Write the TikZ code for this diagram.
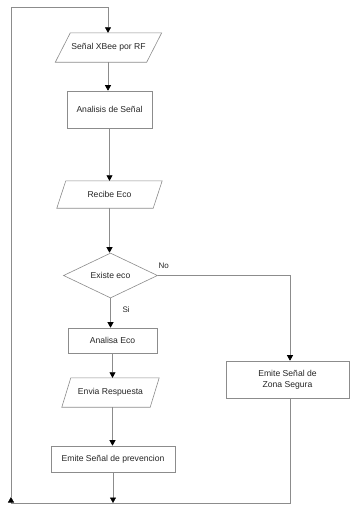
\documentclass[tikz,border=0pt]{standalone}
\usepackage{fontspec}
\setmainfont{Liberation Sans}
\usetikzlibrary{shapes.geometric,arrows.meta,calc}
\definecolor{linegray}{HTML}{8C8C8C}
\tikzset{
  x=1pt,y=-1pt,
  every node/.style={font=\fontsize{8.6}{11}\selectfont, text=black!85},
  boxnode/.style={draw=linegray, line width=0.6pt, rectangle, inner sep=0pt, align=center},
  parnode/.style={inner sep=0pt, align=center},
  decnode/.style={draw=linegray, line width=0.6pt, diamond, inner sep=0pt, aspect=2.1},
  conn/.style={draw=linegray, line width=0.6pt},
  arr/.style={conn, -{Triangle[length=5.5pt,width=6pt,fill=black,color=black]}},
  lbl/.style={font=\fontsize{8}{10}\selectfont}
}
\newcommand{\paragram}[2]{%
  \draw[draw=linegray, line width=0.6pt] ([xshift=#2]#1.north west) -- (#1.north east) -- ([xshift=-#2]#1.south east) -- (#1.south west) -- cycle;}
\begin{document}
\begin{tikzpicture}
\useasboundingbox (0,0) rectangle (350,507);
\fill[white] (0,0) rectangle (350,507);

\node[parnode, minimum width=106, minimum height=29] (p1) at (108.5,47.5) {Señal XBee por RF};
\paragram{p1}{15}
\node[boxnode, minimum width=85, minimum height=37] (b1) at (109.5,109.5) {Analisis de Señal};
\node[parnode, minimum width=105, minimum height=27] (p2) at (109.5,194.5) {Recibe Eco};
\paragram{p2}{9}
\node[decnode, minimum width=94, minimum height=45] (d) at (110.5,275.5) {Existe eco};
\node[boxnode, minimum width=89, minimum height=25] (b2) at (112.5,340.5) {Analisa Eco};
\node[parnode, minimum width=97, minimum height=29] (p3) at (110.5,392.5) {Envia Respuesta};
\paragram{p3}{9}
\node[boxnode, minimum width=124, minimum height=26] (b3) at (113,459) {Emite Señal de prevencion};
\node[boxnode, minimum width=123, minimum height=37] (b4) at (287.5,379.5) {Emite Señal de\\Zona Segura};

\coordinate (bot) at (113,503);
\coordinate (bl) at (11,503);
\coordinate (blt) at (11,497);
\coordinate (tl) at (11,7);
\coordinate (tr) at (108,7);
\coordinate (rx) at (290,275.5);

\draw[arr] (tr) -- (tr |- p1.north);
\draw[arr] (p1.south -| tr) -- (tr |- b1.north);
\draw[arr] (b1.south) -- (b1.south |- p2.north);
\draw[arr] (p2.south) -- (p2.south |- d.north);
\draw[arr] (d.south) -- (d.south |- b2.north);
\draw[arr] (b2.south) -- (b2.south |- p3.north);
\draw[arr] (p3.south -| b2.south) -- (b2.south |- b3.north);
\draw[arr] (b3.south) -- (bot);
\draw[arr] (d.east) -- (rx) -- (rx |- b4.north);
\draw[arr] (rx |- b4.south) -- (bl -| rx) -- (bl) -- (blt);
\draw[conn] (blt) -- (tl) -- (tr);

\node[lbl, anchor=west] at (119,310) {Si};
\node[lbl, anchor=west] at (155,266) {No};
\end{tikzpicture}
\end{document}
